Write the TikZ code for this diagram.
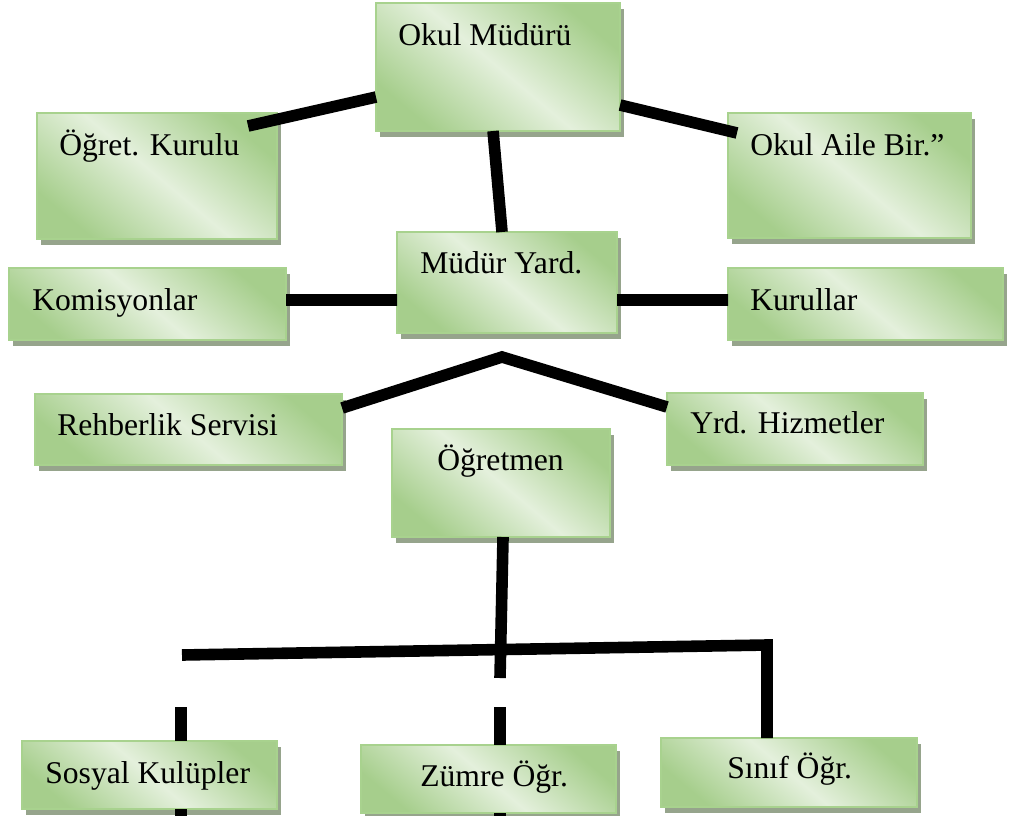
\documentclass[tikz,border=0pt]{standalone}
\usepackage{fontspec}
\setmainfont{Liberation Serif}
\usetikzlibrary{shadows}
\definecolor{boxdark}{RGB}{166,206,140}
\definecolor{boxlight}{RGB}{228,240,220}
\definecolor{boxedge}{RGB}{168,210,142}
\definecolor{boxshade}{RGB}{150,164,140}

\begin{document}
\begin{tikzpicture}[x=0.025cm, y=-0.025cm,
  box/.style={rectangle, anchor=north west, inner sep=0pt, outer sep=0pt,
    draw=boxedge, line width=1.2pt,
    top color=boxdark, bottom color=boxdark, middle color=boxlight, shading angle=-40,
    drop shadow={shadow xshift=0.1cm, shadow yshift=-0.15cm, fill=boxshade, opacity=1}},
  lbl/.style={anchor=base west, inner sep=0pt, font=\fontsize{22.5}{27}\selectfont},
  link/.style={line width=2.9mm, line cap=butt, line join=miter}]
\useasboundingbox (0,0) rectangle (1014,816);

\node[box, minimum width=6.1cm, minimum height=3.2cm] (okul) at (376,3) {};
\node[lbl] (okul-t) at ([shift={(22,42)}]okul.north west) {Okul Müdürü};

\node[box, minimum width=6cm, minimum height=3.15cm] (ogret) at (37,113) {};
\node[lbl] (ogret-t) at ([shift={(22,42)}]ogret.north west) {Öğret. Kurulu};

\node[box, minimum width=6.075cm, minimum height=3.125cm] (aile) at (728,113) {};
\node[lbl] (aile-t) at ([shift={(22,42)}]aile.north west) {Okul Aile Bir.”};

\node[box, minimum width=5.5cm, minimum height=2.525cm] (myard) at (397,232) {};
\node[lbl] (myard-t) at ([shift={(23,41)}]myard.north west) {Müdür Yard.};

\node[box, minimum width=6.925cm, minimum height=1.8cm] (komis) at (9,268) {};
\node[lbl] (komis-t) at ([shift={(23,42)}]komis.north west) {Komisyonlar};

\node[box, minimum width=6.875cm, minimum height=1.8cm] (kurul) at (728,268) {};
\node[lbl] (kurul-t) at ([shift={(22,42)}]kurul.north west) {Kurullar};

\node[box, minimum width=7.675cm, minimum height=1.775cm] (rehber) at (35,394) {};
\node[lbl] (rehber-t) at ([shift={(22,41)}]rehber.north west) {Rehberlik Servisi};

\node[box, minimum width=6.4cm, minimum height=1.8cm] (yrd) at (667,393) {};
\node[lbl] (yrd-t) at ([shift={(23,40)}]yrd.north west) {Yrd. Hizmetler};

\node[box, minimum width=5.45cm, minimum height=2.7cm] (ogretmen) at (392,429) {};
\node[lbl] (ogretmen-t) at ([shift={(45,41)}]ogretmen.north west) {Öğretmen};

\node[box, minimum width=6.375cm, minimum height=1.7cm] (sosyal) at (22,741) {};
\node[lbl] (sosyal-t) at ([shift={(23,42)}]sosyal.north west) {Sosyal Kulüpler};

\node[box, minimum width=6.375cm, minimum height=1.7cm] (zumre) at (361,745) {};
\node[lbl] (zumre-t) at ([shift={(59,41)}]zumre.north west) {Zümre Öğr.};

\node[box, minimum width=6.4cm, minimum height=1.725cm] (sinif) at (661,738) {};
\node[lbl] (sinif-t) at ([shift={(66,40)}]sinif.north west) {Sınıf Öğr.};

\draw[link] ([shift={(-29,13)}]ogret.north east) -- ([shift={(0,-34)}]okul.south west);
\draw[link] ([shift={(0,-26)}]okul.south east) -- ([shift={(9,20)}]aile.north west);
\draw[link] ([shift={(-5,0)}]okul.south) -- ([shift={(-5,0)}]myard.north);

\draw[link] ([shift={(0,-4)}]komis.east) -- ([shift={(0,17.5)}]myard.west);
\draw[link] ([shift={(0,17.5)}]myard.east) -- ([shift={(0,-4)}]kurul.west);

\coordinate (roof) at (502,357);
\draw[link] ([shift={(0,14)}]rehber.north east) -- (roof) -- ([shift={(0,14)}]yrd.north west);

\coordinate (split) at (500,678);
\draw[link] ([shift={(2,0)}]ogretmen.south) -- (split);

\coordinate (barleft) at (182,655);
\coordinate (barright) at (767,645);
\draw[link] (barleft) -- (barright) -- (barright |- sinif.north);

\coordinate (drop1) at (181,707);
\coordinate (drop2) at (500,707);
\draw[link] (drop1) -- (drop1 |- sosyal.north);
\draw[link] (drop2) -- (drop2 |- zumre.north);

\coordinate (tail1) at (181,816);
\coordinate (tail2) at (500,816);
\draw[link] (sosyal.south -| tail1) -- (tail1);
\draw[link] (zumre.south -| tail2) -- (tail2);
\end{tikzpicture}
\end{document}
